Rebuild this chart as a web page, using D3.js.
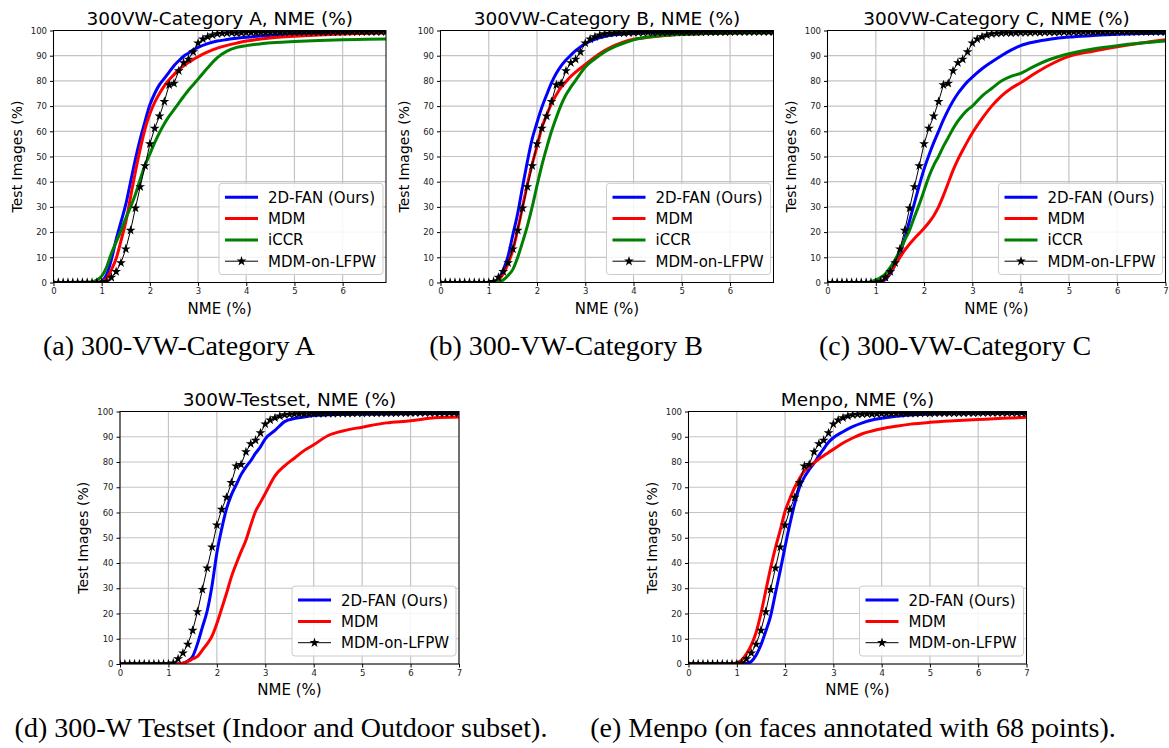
<!DOCTYPE html>
<html>
<head>
<meta charset="utf-8">
<script src="https://cdn.jsdelivr.net/npm/d3@7/dist/d3.min.js"></script>
<style>
  body { margin: 0; background: #fff; }
  svg { display: block; }
  .tick text { font-family: "DejaVu Sans", sans-serif; font-size: 8.5px; fill: #222; }
</style>
</head>
<body>
<svg id="fig" width="1169" height="748"></svg>
<script>
// NME sampling grid (%) shared by the coloured curves
var nmeGrid = [0, 0.8, 0.9, 1.0, 1.1, 1.2, 1.3, 1.4, 1.5, 1.6, 1.7, 1.8, 1.9, 2.0, 2.1, 2.2, 2.3, 2.4, 2.5, 2.6,
               2.7, 2.8, 2.9, 3.0, 3.2, 3.4, 3.6, 3.8, 4.0, 4.3, 4.6, 5.0, 5.5, 6.0, 6.5, 7.0];

// 300VW category A
var fanA  = [0, 0, 0.1, 0.6, 3, 9, 17, 24, 31, 40, 49, 57, 64, 70.5, 75, 78.5, 81, 83.5, 86, 88,
             89.8, 91, 92.3, 93.3, 94.8, 95.8, 96.4, 96.9, 97.3, 97.8, 98.2, 98.5, 98.8, 99, 99.1, 99.2];
var mdmA  = [0, 0, 0, 0.3, 1.5, 5, 9.5, 16.5, 24, 34, 44, 53, 61, 67, 71.5, 75, 78, 80.5, 82.5, 84.5,
             86, 87.3, 88.5, 89.6, 91.5, 93, 94.1, 95, 95.8, 96.6, 97.2, 97.7, 98.2, 98.6, 98.9, 99.1];
var iccrA = [0, 0.2, 1, 2.5, 6, 11.5, 16, 20.5, 25.5, 30, 35, 41, 46.5, 51, 55.5, 59.5, 63, 66, 68.6, 71.2,
             73.8, 76.3, 78.5, 80.7, 85.2, 89.2, 91.8, 93.3, 94, 94.7, 95.2, 95.6, 96, 96.3, 96.5, 96.7];
// 300VW category B
var fanB  = [0, 0, 0, 0, 0.3, 1.5, 5, 10.5, 19, 27.5, 38, 48, 57, 63.5, 69.5, 74.5, 79.2, 83, 86, 88.3,
             90.2, 92, 93.5, 94.8, 96.5, 97.6, 98.3, 98.7, 99, 99.2, 99.3, 99.3, 99.4, 99.4, 99.4, 99.4];
var mdmB  = [0, 0, 0, 0, 0, 1, 3.5, 7.5, 13, 21, 30, 39, 47, 54, 61.5, 66.5, 71, 74.5, 77.5, 79.7,
             81.8, 83.5, 85, 86.5, 89.5, 92, 94, 95.5, 96.5, 97.3, 97.9, 98.4, 98.8, 99, 99.1, 99.2];
var iccrB = [0, 0, 0, 0, 0, 0.2, 1, 2.8, 5.2, 10, 16, 22.5, 30, 38.5, 46.5, 53.5, 60, 65.5, 70.5, 74.5,
             77.5, 80.2, 83, 85.5, 88.8, 91.5, 93.5, 95, 96.3, 97.4, 98, 98.5, 98.8, 99, 99.1, 99.2];
// 300VW category C
var fanC  = [0, 0, 0, 0, 0.3, 1.2, 3.5, 7, 11.5, 17.5, 24.5, 31.5, 38.5, 45, 50.5, 55.5, 60, 64.5, 68.5, 72,
             75, 77.5, 79.7, 81.5, 84.8, 87.5, 90, 92.2, 94, 95.5, 96.5, 97.4, 98, 98.5, 98.8, 99];
var mdmC  = [0, 0, 0, 0, 0.5, 1.5, 4, 7, 10, 12.8, 15.3, 17.5, 19.5, 21.5, 23.8, 26.5, 30, 34.5, 39.5, 44.5,
             48.8, 52.5, 56, 59.3, 65, 70, 74, 77, 79.3, 83, 86.3, 89.7, 91.8, 93.5, 95, 96.3];
var iccrC = [0, 0, 0.3, 1, 2, 3.5, 6, 9, 12.8, 16.8, 20.8, 26, 31, 36.5, 42, 46.5, 50, 54, 57.5, 61,
             64, 66.5, 68.5, 70, 74, 77, 80, 81.8, 83, 86, 88.5, 90.8, 92.7, 94, 95, 95.8];
// 300W test set
var fanD  = [0, 0, 0, 0, 0, 0, 0.3, 1.2, 3, 8, 14.5, 21, 31, 44, 53.5, 61.5, 67, 71, 75, 78,
             80.5, 83.5, 86, 89.2, 92.5, 96, 97.2, 97.8, 98.4, 98.7, 98.9, 99, 99.1, 99.2, 99.2, 99.2];
var mdmD  = [0, 0, 0, 0, 0, 0, 0.3, 1, 2, 3, 5.5, 8, 11, 16, 22, 28, 34.5, 39.7, 44.5, 49,
             55, 60.5, 64, 67.5, 74.5, 78.5, 81.5, 84.5, 86.8, 90.5, 92.3, 93.8, 95.5, 96.3, 97.5, 97.8];
// Menpo
var fanE  = [0, 0, 0, 0, 0, 0.2, 1, 3.5, 7.5, 13, 19, 28, 37, 46.5, 55.5, 63.5, 70, 74, 77, 79.5,
             82.5, 85.2, 87.8, 89.6, 92, 94, 95.5, 96.6, 97.3, 98.1, 98.6, 99, 99.3, 99.4, 99.5, 99.5];
var mdmE  = [0, 0, 0, 0.5, 1.5, 4, 7.5, 12.5, 20, 29, 38, 46, 53, 60.5, 65.5, 70, 73.5, 76.5, 78.2, 79.7,
             81.2, 82.5, 83.8, 85, 87.5, 89.5, 91.2, 92.3, 93.2, 94.2, 95, 95.7, 96.3, 96.8, 97.3, 97.7];

// MDM-on-LFPW, sampled every 0.1 NME from 0 to 7 (same curve in every panel)
var lfpwNme = d3.range(71).map(function(i) { return i / 10; });
var lfpwCurve = [0, 0, 0, 0, 0, 0, 0, 0, 0, 0, 0,
                 0.4, 2, 4.3, 7.8, 13.3, 20.7, 29.5, 38, 46.3, 55,
                 61.2, 66, 71.8, 78.4, 79, 84, 87.2, 88.6, 91.5, 95,
                 96.6, 97.5, 98.2, 98.7, 98.9, 99, 99.1, 99, 99.1, 99.2,
                 99.2, 99.2, 99.3, 99.2, 99.3, 99.3, 99.3, 99.3, 99.4, 99.3,
                 99.4, 99.4, 99.4, 99.4, 99.4, 99.4, 99.4, 99.5, 99.4, 99.5,
                 99.5, 99.5, 99.5, 99.5, 99.5, 99.5, 99.5, 99.5, 99.5, 99.5];

var yTicks = [0, 10, 20, 30, 40, 50, 60, 70, 80, 90, 100];
var seriesColors = {'2D-FAN (Ours)': '#0000ff', 'MDM': '#ff0000', 'iCCR': '#008000', 'MDM-on-LFPW': '#000'};

var panels = [
  {id: 'a', title: '300VW-Category A, NME (%)', left: 53.5, right: 386, top: 30.5, bottom: 282.5, xMax: 6.9,
   series: {'2D-FAN (Ours)': fanA, 'MDM': mdmA, 'iCCR': iccrA}},
  {id: 'b', title: '300VW-Category B, NME (%)', left: 440.5, right: 773.5, top: 30.5, bottom: 282.5, xMax: 6.9,
   series: {'2D-FAN (Ours)': fanB, 'MDM': mdmB, 'iCCR': iccrB}},
  {id: 'c', title: '300VW-Category C, NME (%)', left: 827.5, right: 1165.5, top: 30.5, bottom: 282.5, xMax: 7,
   series: {'2D-FAN (Ours)': fanC, 'MDM': mdmC, 'iCCR': iccrC}},
  {id: 'd', title: '300W-Testset, NME (%)', left: 120, right: 459, top: 411.5, bottom: 664, xMax: 7,
   series: {'2D-FAN (Ours)': fanD, 'MDM': mdmD}},
  {id: 'e', title: 'Menpo, NME (%)', left: 688.5, right: 1026.5, top: 411.5, bottom: 664, xMax: 7,
   series: {'2D-FAN (Ours)': fanE, 'MDM': mdmE}}
];

var captions = [
  {text: '(a) 300-VW-Category A', x: 179, y: 355},
  {text: '(b) 300-VW-Category B', x: 566, y: 355},
  {text: '(c) 300-VW-Category C', x: 955, y: 355},
  {text: '(d) 300-W Testset (Indoor and Outdoor subset).', x: 281, y: 737},
  {text: '(e) Menpo (on faces annotated with 68 points).', x: 853, y: 737}
];

var svg = d3.select('#fig');
var star = d3.symbol().type(d3.symbolStar).size(30);

function drawPanel(p) {
    var g = svg.append('g').attr('class', 'panel-' + p.id);
    var x = d3.scaleLinear().domain([0, p.xMax]).range([p.left, p.right]);
    var y = d3.scaleLinear().domain([0, 100]).range([p.bottom, p.top]);
    var xTicks = d3.range(0, Math.floor(p.xMax) + 1);

    // clip to the plot area
    g.append('clipPath').attr('id', 'clip-' + p.id)
        .append('rect')
            .attr('x', p.left).attr('y', p.top)
            .attr('width', p.right - p.left).attr('height', p.bottom - p.top);

    // grid
    g.append('g').selectAll('line').data(xTicks).enter().append('line')
        .attr('x1', d => x(d)).attr('x2', d => x(d))
        .attr('y1', p.top).attr('y2', p.bottom)
        .attr('stroke', '#c4c4c4').attr('stroke-width', 1.2);
    g.append('g').selectAll('line').data(yTicks).enter().append('line')
        .attr('x1', p.left).attr('x2', p.right)
        .attr('y1', d => y(d)).attr('y2', d => y(d))
        .attr('stroke', '#c4c4c4').attr('stroke-width', 1.2);

    // curves
    var plot = g.append('g').attr('clip-path', 'url(#clip-' + p.id + ')');
    var line = d3.line()
        .x(d => x(d[0])).y(d => y(d[1]))
        .curve(d3.curveMonotoneX);
    Object.keys(p.series).forEach(function(name) {
        var pts = nmeGrid.map((v, i) => [v, p.series[name][i]]);
        plot.append('path')
            .attr('d', line(pts))
            .attr('fill', 'none')
            .attr('stroke', seriesColors[name])
            .attr('stroke-width', 3)
            .attr('stroke-linejoin', 'round');
    });
    var lfpw = lfpwNme.map((v, i) => [v, lfpwCurve[i]]);
    plot.append('path')
        .attr('d', d3.line().x(d => x(d[0])).y(d => y(d[1]))(lfpw))
        .attr('fill', 'none')
        .attr('stroke', '#000')
        .attr('stroke-width', 1);
    plot.append('g').selectAll('path').data(lfpw).enter().append('path')
        .attr('d', star)
        .attr('transform', d => 'translate(' + x(d[0]) + ',' + y(d[1]) + ')')
        .attr('fill', '#000');

    // axes
    g.append('g')
        .attr('transform', 'translate(0,' + p.bottom + ')')
        .call(d3.axisBottom(x).tickValues(xTicks).tickSize(3.5).tickPadding(2).tickFormat(d3.format('d')))
        .call(a => a.select('.domain').remove());
    g.append('g')
        .attr('transform', 'translate(' + p.left + ',0)')
        .call(d3.axisLeft(y).tickValues(yTicks).tickSize(3.5).tickPadding(3).tickFormat(d3.format('d')))
        .call(a => a.select('.domain').remove());
    g.append('rect')
        .attr('x', p.left).attr('y', p.top)
        .attr('width', p.right - p.left).attr('height', p.bottom - p.top)
        .attr('fill', 'none').attr('stroke', '#000').attr('stroke-width', 1);

    // labels
    g.append('text')
        .attr('x', (p.left + p.right) / 2).attr('y', p.top - 6)
        .attr('text-anchor', 'middle')
        .style('font-family', 'DejaVu Sans').style('font-size', '18.5px')
        .text(p.title);
    g.append('text')
        .attr('x', (p.left + p.right) / 2).attr('y', p.bottom + 31)
        .attr('text-anchor', 'middle')
        .style('font-family', 'DejaVu Sans').style('font-size', '15px')
        .text('NME (%)');
    g.append('text')
        .attr('transform', 'translate(' + (p.left - 32) + ',' + ((p.top + p.bottom) / 2) + ') rotate(-90)')
        .attr('text-anchor', 'middle')
        .style('font-family', 'DejaVu Sans').style('font-size', '14px')
        .text('Test Images (%)');

    // legend
    var names = Object.keys(p.series).concat(['MDM-on-LFPW']);
    var rowH = 21.3;
    var boxH = names.length * rowH + 6;
    var bx = p.right - 167, by = p.bottom - 8 - boxH;
    var leg = g.append('g');
    leg.append('rect')
        .attr('x', bx).attr('y', by).attr('width', 164).attr('height', boxH)
        .attr('rx', 3)
        .attr('fill', '#fff').attr('fill-opacity', 0.85)
        .attr('stroke', '#ccc').attr('stroke-width', 1);
    var row = leg.selectAll('g.row').data(names).enter().append('g')
        .attr('class', 'row')
        .attr('transform', (d, i) => 'translate(' + bx + ',' + (by + 14 + i * rowH) + ')');
    row.append('line')
        .attr('x1', 6).attr('x2', 39).attr('y1', 0).attr('y2', 0)
        .attr('stroke', d => seriesColors[d])
        .attr('stroke-width', d => d === 'MDM-on-LFPW' ? 1 : 3);
    row.filter(d => d === 'MDM-on-LFPW').append('path')
        .attr('d', star)
        .attr('transform', 'translate(22.5,0)')
        .attr('fill', '#000');
    row.append('text')
        .attr('x', 49).attr('y', 5.5)
        .style('font-family', 'DejaVu Sans').style('font-size', '15px')
        .text(d => d);
}

panels.forEach(drawPanel);

svg.append('g').selectAll('text').data(captions).enter().append('text')
    .attr('x', d => d.x).attr('y', d => d.y)
    .attr('text-anchor', 'middle')
    .style('font-family', '"Liberation Serif", "Times New Roman", serif')
    .style('font-size', '28px')
    .text(d => d.text);
</script>
</body>
</html>
